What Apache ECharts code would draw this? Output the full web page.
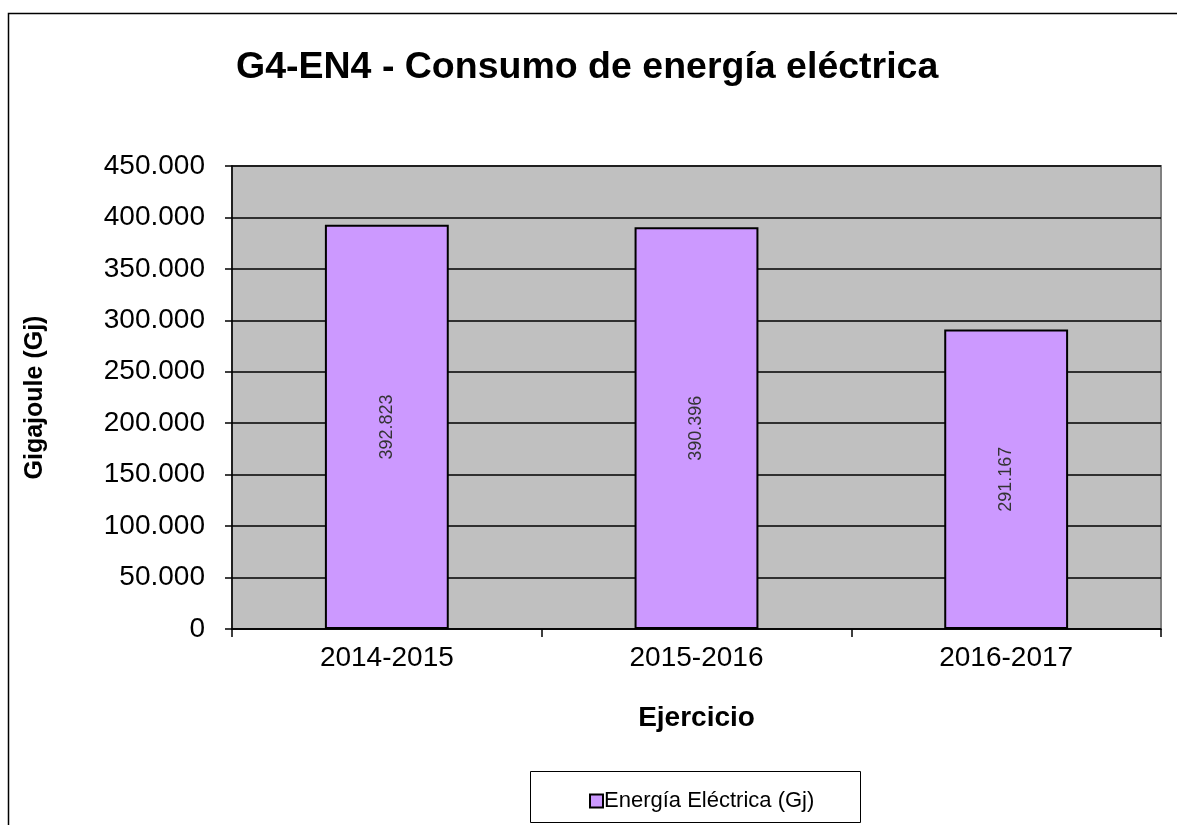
<!DOCTYPE html>
<html>
<head>
<meta charset="utf-8">
<script src="https://cdn.jsdelivr.net/npm/echarts@6/dist/echarts.min.js"></script>
<style>
html,body{margin:0;padding:0;background:#fff;}
#c{width:1177px;height:825px;}
</style>
</head>
<body>
<div id="c"></div>
<script>
const categories = ['2014-2015', '2015-2016', '2016-2017'];
const values = [392823, 390396, 291167];
const seriesName = 'Energía Eléctrica (Gj)';
const titleText = 'G4-EN4 - Consumo de energía eléctrica';
const yName = 'Gigajoule (Gj)';
const xName = 'Ejercicio';

function fmt(v) {
  return String(Math.round(v)).replace(/\B(?=(\d{3})+(?!\d))/g, '.');
}

const FONT = "'Liberation Sans', Arial, sans-serif";
const chart = echarts.init(document.getElementById('c'), null, {renderer: 'canvas'});
chart.setOption({
  backgroundColor: '#ffffff',
  animation: false,
  title: {
    text: titleText,
    left: 231,
    top: 44,
    textStyle: {fontFamily: FONT, fontSize: 37.5, fontWeight: 'bold', color: '#000'}
  },
  graphic: [
    {type: 'rect', shape: {x: 8.5, y: 13.5, width: 1300, height: 900}, style: {fill: 'none', stroke: '#000', lineWidth: 1.5}, z: 100},
    {type: 'rect', shape: {x: 530.5, y: 771.5, width: 330, height: 51}, style: {fill: '#fff', stroke: '#000', lineWidth: 1}, z: 0}
  ],
  legend: {
    data: [seriesName],
    left: 584,
    top: 785,
    itemWidth: 13,
    itemHeight: 13,
    itemGap: 4,
    icon: 'rect',
    textStyle: {fontFamily: FONT, fontSize: 22, color: '#000', padding: [0, 0, 0, -4]},
    z: 10
  },
  grid: {
    left: 232, right: 16, top: 166, bottom: 196,
    show: true,
    backgroundColor: '#C0C0C0',
    borderColor: '#808080',
    borderWidth: 2
  },
  xAxis: {
    type: 'category',
    data: categories,
    name: xName,
    nameLocation: 'middle',
    nameGap: 75,
    nameTextStyle: {fontFamily: FONT, fontSize: 28, fontWeight: 'bold', color: '#000'},
    axisLine: {show: true, lineStyle: {color: '#000', width: 1.5}},
    axisTick: {show: true, length: 8, lineStyle: {color: '#000', width: 1.5}},
    axisLabel: {fontFamily: FONT, fontSize: 28, color: '#000', margin: 15},
    splitLine: {show: false}
  },
  yAxis: {
    type: 'value',
    min: 0,
    max: 450000,
    interval: 50000,
    name: yName,
    nameLocation: 'middle',
    nameGap: 184,
    nameTextStyle: {fontFamily: FONT, fontSize: 25, fontWeight: 'bold', color: '#000'},
    axisLine: {show: true, lineStyle: {color: '#000', width: 1.5}},
    axisTick: {show: true, length: 7, lineStyle: {color: '#000', width: 1.5}},
    axisLabel: {fontFamily: FONT, fontSize: 28, color: '#000', margin: 27, formatter: fmt},
    splitLine: {show: true, lineStyle: {color: '#000', width: 1.5}}
  },
  series: [{
    name: seriesName,
    type: 'bar',
    data: values,
    barWidth: '40%',
    itemStyle: {color: '#CC99FF', borderColor: '#000', borderWidth: 2},
    label: {
      show: true,
      position: 'inside',
      rotate: 90,
      fontFamily: FONT,
      fontSize: 18,
      color: '#333',
      formatter: p => fmt(p.value)
    }
  }]
});
</script>
</body>
</html>
